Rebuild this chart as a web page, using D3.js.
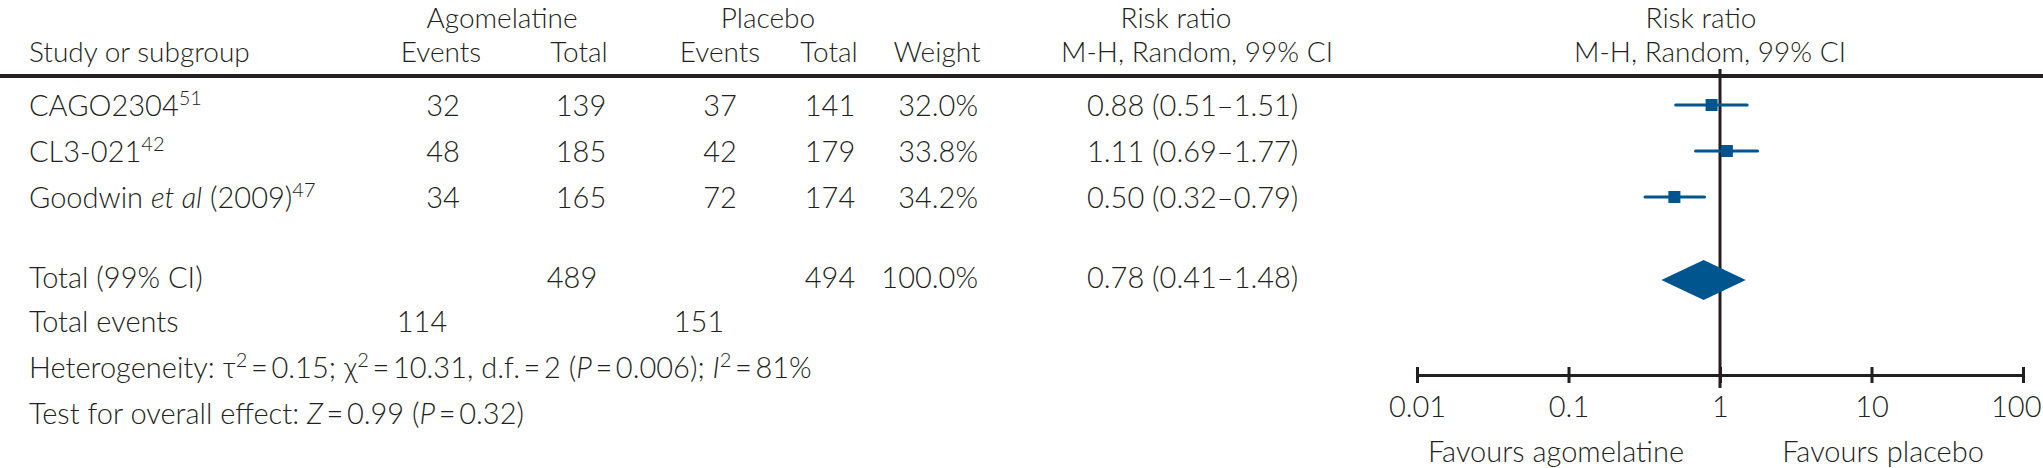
<!DOCTYPE html>
<html>
<head>
<meta charset="utf-8">
<title>Forest plot</title>
<script src="https://cdn.jsdelivr.net/npm/d3@7"></script>
<style>
body { margin: 0; background: #fff; }
svg text { font-family: Lato, "Liberation Sans", sans-serif; font-weight: 300; fill: #231f20; font-size: 29px; }
svg .head text { font-size: 28px; }
</style>
</head>
<body>
<svg id="chart"></svg>
<script>
// data
var studies = ["CAGO2304", "CL3-021", "Goodwin"];
var refs = ["51", "42", "47"];
var agoEvents = [32, 48, 34];
var agoTotal = [139, 185, 165];
var plaEvents = [37, 42, 72];
var plaTotal = [141, 179, 174];
var weights = ["32.0%", "33.8%", "34.2%"];
var rr = [0.88, 1.11, 0.50];
var rrLow = [0.51, 0.69, 0.32];
var rrHigh = [1.51, 1.77, 0.79];
var pooled = [0.78, 0.41, 1.48];
var totals = [489, 494];
var totalEvents = [114, 151];
var ticks = [0.01, 0.1, 1, 10, 100];
var tickLabels = ["0.01", "0.1", "1", "10", "100"];

var W = 2043, H = 468;
var ink = "#231f20", blue = "#00558f";

var svg = d3.select("#chart").attr("width", W).attr("height", H);

var x = d3.scaleLog().domain([0.01, 100]).range([1417, 2023]);
// row index -> text baseline
var row = d3.scaleLinear().domain([0, 1]).range([116, 162]);
var rowTotal = 3.74, rowEvents = 4.7, rowHet = 5.7, rowTest = 6.7;

function fmt(v) { return d3.format(".2f")(v); }

// column headers
var head = svg.append("g").attr("class", "head");
[["Agomelatine", 502, 28], ["Placebo", 768, 28], ["Risk ratio", 1176, 28], ["Risk ratio", 1701, 28],
 ["Events", 441, 62], ["Total", 579, 62], ["Events", 720, 62], ["Total", 829, 62],
 ["Weight", 937, 62], ["M-H, Random, 99% CI", 1197, 62], ["M-H, Random, 99% CI", 1710, 62]]
  .forEach(function(h){
    head.append("text").attr("x", h[1]).attr("y", h[2]).attr("text-anchor", "middle").text(h[0]);
  });
head.append("text").attr("x", 29).attr("y", 62).text("Study or subgroup");

svg.append("line")
    .attr("x1", 0).attr("x2", W).attr("y1", 76).attr("y2", 76)
    .attr("stroke", ink).attr("stroke-width", 4);

// study rows
var rows = svg.append("g").selectAll("g")
    .data(studies)
  .enter().append("g");

rows.each(function(d, i){
  var g = d3.select(this), y = row(i);
  var t = g.append("text").attr("x", 29).attr("y", y);
  t.append("tspan").text(d);
  if (i == 2) {
    t.append("tspan").text(" ");
    t.append("tspan").style("font-style", "italic").text("et al");
    t.append("tspan").text(" (2009)");
  }
  t.append("tspan").attr("dy", -11).style("font-size", "20px").text(refs[i]);
  g.append("text").attr("x", 443).attr("y", y).attr("text-anchor", "middle").text(agoEvents[i]);
  g.append("text").attr("x", 581).attr("y", y).attr("text-anchor", "middle").text(agoTotal[i]);
  g.append("text").attr("x", 720).attr("y", y).attr("text-anchor", "middle").text(plaEvents[i]);
  g.append("text").attr("x", 830).attr("y", y).attr("text-anchor", "middle").text(plaTotal[i]);
  g.append("text").attr("x", 978).attr("y", y).attr("text-anchor", "end").text(weights[i]);
  g.append("text").attr("x", 1087).attr("y", y)
      .text(fmt(rr[i]) + " (" + fmt(rrLow[i]) + "\u2013" + fmt(rrHigh[i]) + ")");
});

// totals
var yT = row(rowTotal);
svg.append("text").attr("x", 29).attr("y", yT).text("Total (99% CI)");
svg.append("text").attr("x", 572).attr("y", yT).attr("text-anchor", "middle").text(totals[0]);
svg.append("text").attr("x", 830).attr("y", yT).attr("text-anchor", "middle").text(totals[1]);
svg.append("text").attr("x", 978).attr("y", yT).attr("text-anchor", "end").text("100.0%");
svg.append("text").attr("x", 1087).attr("y", yT)
    .text(fmt(pooled[0]) + " (" + fmt(pooled[1]) + "\u2013" + fmt(pooled[2]) + ")");

var yE = row(rowEvents);
svg.append("text").attr("x", 29).attr("y", yE).text("Total events");
svg.append("text").attr("x", 422).attr("y", yE).attr("text-anchor", "middle").text(totalEvents[0]);
svg.append("text").attr("x", 699).attr("y", yE).attr("text-anchor", "middle").text(totalEvents[1]);

var eq = "\u2009=\u2009";
var het = svg.append("text").attr("x", 29).attr("y", row(rowHet));
het.append("tspan").text("Heterogeneity: \u03c4");
het.append("tspan").attr("dy", -11).style("font-size", "20px").text("2");
het.append("tspan").attr("dy", 11).text(eq + "0.15; \u03c7");
het.append("tspan").attr("dy", -11).style("font-size", "20px").text("2");
het.append("tspan").attr("dy", 11).text(eq + "10.31, d.f." + eq + "2 (");
het.append("tspan").style("font-style", "italic").text("P");
het.append("tspan").text(eq + "0.006); ");
het.append("tspan").style("font-style", "italic").text("I");
het.append("tspan").attr("dy", -11).style("font-size", "20px").text("2");
het.append("tspan").attr("dy", 11).text(eq + "81%");

var tst = svg.append("text").attr("x", 29).attr("y", row(rowTest));
tst.append("tspan").text("Test for overall effect: ");
tst.append("tspan").style("font-style", "italic").text("Z");
tst.append("tspan").text(eq + "0.99 (");
tst.append("tspan").style("font-style", "italic").text("P");
tst.append("tspan").text(eq + "0.32)");

// plot: axis
var axisY = 375;
var axis = d3.axisBottom(x).tickValues(ticks).tickSize(0).tickFormat(function(d, i){ return tickLabels[i]; });
var ax = svg.append("g").attr("transform", "translate(0," + axisY + ")").call(axis);
ax.attr("font-family", null).attr("font-size", null);
ax.select(".domain").attr("stroke", ink).attr("stroke-width", 3);
ax.selectAll(".tick text").attr("y", 42).attr("dy", null).attr("fill", ink);
// last label sits against the right edge, as in the original
ax.selectAll(".tick text").filter(function(d){ return d === 100; })
    .attr("text-anchor", "end").attr("x", W - 2 - x(100));
ax.selectAll(".tick").append("line")
    .attr("y1", -8).attr("y2", 8).attr("stroke", ink).attr("stroke-width", 3);

// line of no effect
svg.append("line")
    .attr("x1", x(1)).attr("x2", x(1)).attr("y1", 69).attr("y2", 388)
    .attr("stroke", ink).attr("stroke-width", 3);

// study estimates
var marks = svg.append("g").selectAll("g")
    .data(rr)
  .enter().append("g");
marks.append("line")
    .attr("x1", function(d, i){ return x(rrLow[i]); })
    .attr("x2", function(d, i){ return x(rrHigh[i]); })
    .attr("y1", function(d, i){ return row(i) - 11; })
    .attr("y2", function(d, i){ return row(i) - 11; })
    .attr("stroke", blue).attr("stroke-width", 3).attr("stroke-linecap", "round");
marks.append("rect")
    .attr("x", function(d){ return x(d) - 6; })
    .attr("y", function(d, i){ return row(i) - 17; })
    .attr("width", 12).attr("height", 12)
    .attr("fill", blue);

// pooled diamond
var yd = yT - 8;
svg.append("path")
    .attr("d", "M" + x(pooled[1]) + "," + yd +
               "L" + x(pooled[0]) + "," + (yd - 20) +
               "L" + x(pooled[2]) + "," + yd +
               "L" + x(pooled[0]) + "," + (yd + 20) + "Z")
    .attr("fill", blue);

svg.append("text").attr("x", 1556).attr("y", 462).attr("text-anchor", "middle").text("Favours agomelatine");
svg.append("text").attr("x", 1883).attr("y", 462).attr("text-anchor", "middle").text("Favours placebo");
</script>
</body>
</html>
